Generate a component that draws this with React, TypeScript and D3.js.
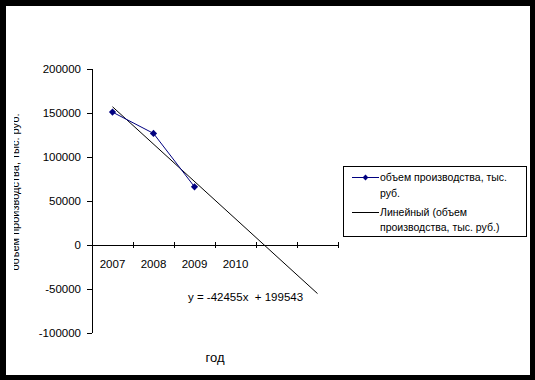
import React from "react";
import * as d3 from "d3";

const categories = ["2007", "2008", "2009", "2010", "", ""];
const values = [151000, 126800, 66100];
const yTicks = [200000, 150000, 100000, 50000, 0, -50000, -100000];
const trendSlope = -42455;
const trendIntercept = 199543;
const trendRange = [1, 6];
const seriesName = "объем производства, тыс. руб.";
const trendName = "Линейный (объем производства, тыс. руб.)";
const xTitle = "год";
const yTitle = "объем производства, тыс. руб.";
const equation = "y = -42455x  + 199543";

const W = 535;
const H = 380;
const FONT = "'Liberation Sans', Arial, sans-serif";

export default function App() {
  const y = d3.scaleLinear().domain([-100000, 200000]).range([333, 69]);
  const x = d3
    .scaleBand<number>()
    .domain(categories.map((_, i) => i + 1))
    .range([92, 338])
    .paddingInner(0)
    .paddingOuter(0);
  const cx = (i: number) => (x(i) as number) + x.bandwidth() / 2;
  const xLin = d3.scaleLinear().domain([1, 6]).range([cx(1), cx(6)]);

  const seriesLine = d3
    .line<number>()
    .x((_, i) => cx(i + 1))
    .y((d) => y(d));
  const trendPts = trendRange.map((t) => [xLin(t), y(trendSlope * t + trendIntercept)]);
  const marker = d3.symbol().type(d3.symbolSquare).size(26)();

  const y0 = y(0);
  const tickEdges = d3.range(categories.length + 1).map((i) => 92 + i * x.bandwidth());

  return (
    <svg
      width={W}
      height={H}
      style={{ position: "absolute", left: 0, top: 0, display: "block" }}
      fontFamily={FONT}
    >
      <defs>
        <clipPath id="ylab">
          <rect x={14} y={0} width={40} height={H} />
        </clipPath>
      </defs>
      <rect x={0} y={0} width={W} height={H} fill="#000" />
      <rect x={6} y={6} width={524} height={369} fill="#fff" />

      {/* Y axis */}
      <line x1={92.5} x2={92.5} y1={69} y2={333} stroke="#000" strokeWidth={1} />
      {yTicks.map((t) => (
        <g key={t}>
          <line x1={87} x2={92} y1={Math.round(y(t)) + 0.5} y2={Math.round(y(t)) + 0.5} stroke="#000" />
          <text x={81} y={y(t) + 4} textAnchor="end" fontSize={11.5} fill="#000">
            {t}
          </text>
        </g>
      ))}

      {/* X axis */}
      <line x1={92} x2={338} y1={Math.round(y0) + 0.5} y2={Math.round(y0) + 0.5} stroke="#000" />
      {tickEdges.map((e, i) => (
        <line key={i} x1={Math.round(e) + 0.5} x2={Math.round(e) + 0.5} y1={y0 - 3} y2={y0 + 3} stroke="#000" />
      ))}
      {categories.map((c, i) => (
        <text key={i} x={cx(i + 1)} y={268} textAnchor="middle" fontSize={11.5} fill="#000">
          {c}
        </text>
      ))}

      {/* trend line */}
      <line
        x1={trendPts[0][0]}
        y1={trendPts[0][1]}
        x2={trendPts[1][0]}
        y2={trendPts[1][1]}
        stroke="#000"
        strokeWidth={1}
      />

      {/* series */}
      <path d={seriesLine(values) || ""} fill="none" stroke="#000080" strokeWidth={1} />
      {values.map((v, i) => (
        <path
          key={i}
          d={marker || ""}
          transform={`translate(${cx(i + 1)},${y(v)}) rotate(45)`}
          fill="#000080"
        />
      ))}

      {/* equation */}
      <text x={188} y={301} fontSize={11.5} fill="#000" style={{ whiteSpace: "pre" }}>
        {equation}
      </text>

      {/* axis titles */}
      <text x={215} y={362} textAnchor="middle" fontSize={13} fill="#000">
        {xTitle}
      </text>
      <g clipPath="url(#ylab)">
        <text
          transform={`translate(18.5,192) rotate(-90)`}
          textAnchor="middle"
          fontSize={11}
          fill="#000"
        >
          {yTitle}
        </text>
      </g>

      {/* legend */}
      <rect x={343.5} y={166.5} width={183} height={70} fill="#fff" stroke="#000" strokeWidth={1} />
      <line x1={352} x2={379} y1={177.5} y2={177.5} stroke="#000080" />
      <path d={marker || ""} transform="translate(365.5,177.5) rotate(45) scale(0.8)" fill="#000080" />
      <text x={380} y={181} fontSize={10.5} fill="#000">
        {seriesName.replace(" руб.", "")}
      </text>
      <text x={380} y={197} fontSize={10.5} fill="#000">
        руб.
      </text>
      <line x1={352} x2={379} y1={212.5} y2={212.5} stroke="#000" />
      <text x={380} y={216} fontSize={10.5} fill="#000">
        {trendName.split(" производства")[0]}
      </text>
      <text x={380} y={231} fontSize={10.5} fill="#000">
        {"производства" + trendName.split(" производства")[1]}
      </text>
    </svg>
  );
}
